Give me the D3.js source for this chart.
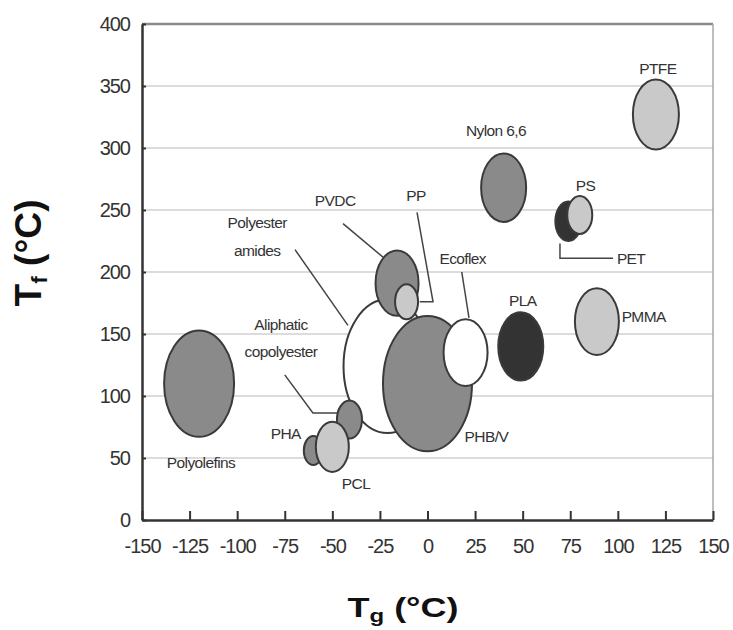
<!DOCTYPE html>
<html>
<head>
<meta charset="utf-8">
<script src="https://cdn.jsdelivr.net/npm/d3@7"></script>
<style>
  body { margin: 0; background: #fff; }
  svg text { font-family: "Liberation Sans", Arial, sans-serif; }
</style>
</head>
<body>
<div id="chart"></div>
<script>
// Polymere: Glasübergang Tg (x), Schmelzpunkt Tf (y), Blasengröße
const names = ["Polyolefins", "Polyester amides", "Aliphatic copolyester", "PHA", "PCL",
               "PHB/V", "Ecoflex", "PVDC", "PP", "Nylon 6,6", "PET", "PS", "PLA", "PMMA", "PTFE"];
const tg   = [-120, -21, -41, -60, -50,   0,  20, -16, -11,  40,  74,  80,  49,  89, 120];
const tf   = [ 110, 124,  81,  56,  59, 110, 135, 191, 176, 268, 241, 246, 140, 160, 327];
const size = [  35,  44, 12.5, 9.5, 16.5, 44.5, 22, 21.5, 11.5, 22.5, 13, 12.5, 22.5, 22, 23];
const shade = ["mid", "white", "mid", "mid", "light", "mid", "white", "mid", "light",
               "mid", "dark", "light", "dark", "light", "light"];

const xTicks = [-150, -125, -100, -75, -50, -25, 0, 25, 50, 75, 100, 125, 150];
const yTicks = [0, 50, 100, 150, 200, 250, 300, 350, 400];

const fills = { mid: "#8a8a8a", light: "#c9c9c9", dark: "#333333", white: "#ffffff" };

// Beschriftungen (in Datenkoordinaten), Hinweislinien
const labels = [
    { text: ["PTFE"], x: 121, y: 364, anchor: "middle" },
    { text: ["Nylon 6,6"], x: 36, y: 314, anchor: "middle" },
    { text: ["PS"], x: 83, y: 270, anchor: "middle" },
    { text: ["PET"], x: 99.5, y: 211, anchor: "start" },
    { text: ["PLA"], x: 50, y: 177, anchor: "middle" },
    { text: ["PMMA"], x: 102, y: 164, anchor: "start" },
    { text: ["PHB/V"], x: 19.5, y: 67, anchor: "start" },
    { text: ["Ecoflex"], x: 18.5, y: 211, anchor: "middle" },
    { text: ["PVDC"], x: -48.5, y: 258, anchor: "middle" },
    { text: ["PP"], x: -6, y: 262, anchor: "middle" },
    { text: ["Polyester", "amides"], x: -89.5, y: 240, anchor: "middle" },
    { text: ["Aliphatic", "copolyester"], x: -77, y: 158, anchor: "middle" },
    { text: ["PHA"], x: -74.5, y: 70, anchor: "middle" },
    { text: ["PCL"], x: -45, y: 29, anchor: "start" },
    { text: ["Polyolefins"], x: -119, y: 46, anchor: "middle" }
];
const leaders = [
    [[69.6, 223], [69.6, 211], [97.5, 211]],
    [[18, 200], [21.8, 163]],
    [[-44.4, 239], [-23.4, 212]],
    [[-5.5, 248], [2.9, 176], [-4.1, 176]],
    [[-69.6, 218], [-41.8, 157]],
    [[-75, 117], [-60.2, 86.3], [-47.5, 86.3]]
];

const W = 733, H = 630;
const margin = { top: 24, right: 20, bottom: 110, left: 142 };

const svg = d3.select("#chart").append("svg")
    .attr("width", W)
    .attr("height", H);

const x = d3.scaleLinear().domain([-150, 150]).range([margin.left, W - margin.right]);
const y = d3.scaleLinear().domain([0, 400]).range([H - margin.bottom, margin.top]);
const r = d3.scaleLinear().domain([0, 50]).range([0, 50]);
const aspect = 1.52; // Blasen sind höher als breit

// Gitterlinien
svg.append("g")
    .selectAll("line")
    .data(yTicks.filter(d => d > 0 && d < 400))
    .enter().append("line")
    .attr("x1", x(-150)).attr("x2", x(150))
    .attr("y1", d => y(d)).attr("y2", d => y(d))
    .attr("stroke", "#dcdcdc")
    .attr("stroke-width", 2);

// Rahmen oben / rechts
svg.append("line")
    .attr("x1", x(-150)).attr("x2", x(150))
    .attr("y1", y(400)).attr("y2", y(400))
    .attr("stroke", "#8a8a8a").attr("stroke-width", 2.5);
svg.append("line")
    .attr("x1", x(150)).attr("x2", x(150))
    .attr("y1", y(400)).attr("y2", y(0))
    .attr("stroke", "#a8a8a8").attr("stroke-width", 1.5);

// Hinweislinien
const line = d3.line().x(d => x(d[0])).y(d => y(d[1]));
svg.append("g")
    .selectAll("path")
    .data(leaders)
    .enter().append("path")
    .attr("d", line)
    .attr("fill", "none")
    .attr("stroke", "#444")
    .attr("stroke-width", 1.5);

// Blasen
svg.append("g")
    .selectAll("ellipse")
    .data(names.map((n, i) => ({ name: n, tg: tg[i], tf: tf[i], size: size[i], shade: shade[i] })))
    .enter().append("ellipse")
    .attr("cx", d => x(d.tg))
    .attr("cy", d => y(d.tf))
    .attr("rx", d => r(d.size))
    .attr("ry", d => r(d.size) * aspect)
    .attr("fill", d => fills[d.shade])
    .attr("stroke", "#3a3a3a")
    .attr("stroke-width", 2);

// Achsen (Bindestrich statt Minuszeichen wie im Original)
const xAxis = d3.axisBottom(x).tickValues(xTicks).tickSize(-9).tickPadding(14).tickSizeOuter(0)
    .tickFormat(d => String(d));
const yAxis = d3.axisLeft(y).tickValues(yTicks).tickSize(-4).tickPadding(12).tickSizeOuter(0)
    .tickFormat(d => String(d));

const gx = svg.append("g")
    .attr("transform", `translate(0,${y(0)})`)
    .call(xAxis);
const gy = svg.append("g")
    .attr("transform", `translate(${x(-150)},0)`)
    .call(yAxis);

[gx, gy].forEach(g => {
    g.select(".domain").attr("stroke", "#333").attr("stroke-width", 2.5);
    g.selectAll(".tick line").attr("stroke", "#333").attr("stroke-width", 2);
    g.selectAll(".tick text")
        .attr("fill", "#333")
        .style("font-size", "20px")
        .style("letter-spacing", "-1px");
});
gx.selectAll(".tick text").attr("dy", "0.95em");

// Beschriftungen
const lab = svg.append("g")
    .selectAll("text")
    .data(labels)
    .enter().append("text")
    .attr("x", d => x(d.x))
    .attr("y", d => y(d.y))
    .attr("text-anchor", d => d.anchor)
    .attr("fill", "#333")
    .style("font-size", "15.5px")
    .style("letter-spacing", "-0.6px");
lab.selectAll("tspan")
    .data(d => d.text.map((t, i) => ({ t, i, x: x(d.x) })))
    .enter().append("tspan")
    .attr("x", d => d.x)
    .attr("dy", d => d.i === 0 ? "0.35em" : "1.8em")
    .text(d => d.t);

// Achsentitel
const xTitle = svg.append("text")
    .attr("x", 403)
    .attr("y", 617)
    .attr("text-anchor", "middle")
    .attr("fill", "#111")
    .style("font-size", "27px")
    .style("font-weight", "bold")
    .attr("textLength", 111)
    .attr("lengthAdjust", "spacingAndGlyphs");
xTitle.append("tspan").text("T");
xTitle.append("tspan").attr("dy", 5).style("font-size", "18px").text("g");
xTitle.append("tspan").attr("dy", -5).text(" (°C)");

const yTitle = svg.append("text")
    .attr("transform", "translate(41,253) rotate(-90)")
    .attr("text-anchor", "middle")
    .attr("fill", "#111")
    .style("font-size", "36px")
    .style("font-weight", "bold")
    .attr("textLength", 107)
    .attr("lengthAdjust", "spacingAndGlyphs");
yTitle.append("tspan").text("T");
yTitle.append("tspan").attr("dy", 6).style("font-size", "22px").text("f");
yTitle.append("tspan").attr("dy", -6).text(" (°C)");
</script>
</body>
</html>
